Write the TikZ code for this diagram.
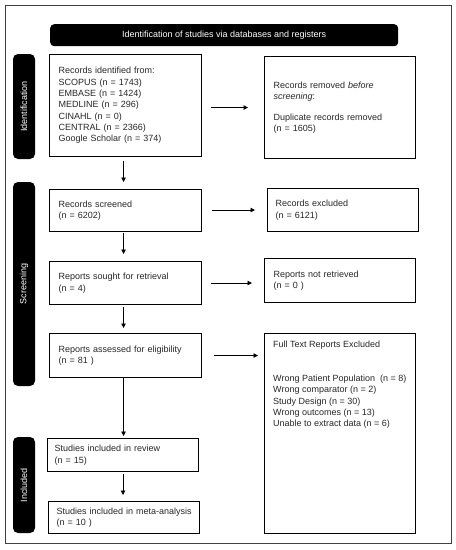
\documentclass[tikz,border=0pt]{standalone}
\usepackage{fontspec}
\setmainfont{Liberation Sans}
\usetikzlibrary{arrows.meta,calc}
\begin{document}
\begin{tikzpicture}[x=1pt,y=-1pt,
  txt/.style={font=\fontsize{9}{11.3}\selectfont, text=black!85},
  box/.style={txt, draw=black, line width=1.1pt, anchor=north west, align=left, inner xsep=9pt, inner ysep=0pt},
  bar/.style={fill=black, rounded corners=5pt, inner sep=0pt, text=white, font=\fontsize{9}{11}\selectfont, rotate=90, minimum height=22pt},
  arr/.style={-{Triangle[length=4.5pt,width=4.5pt]}, line width=0.7pt, black},
]
\useasboundingbox (0,0) rectangle (456,550);
\draw[line width=0.9pt, black!75] (5,5) rectangle (451,543);

\node[fill=black, rounded corners=4pt, anchor=north west, minimum width=348pt, minimum height=22pt, inner sep=0pt, text=white, font=\fontsize{9}{11}\selectfont] (hdr) at (50,24) {Identification of studies via databases and registers};

\node[bar, minimum width=105pt] (lid) at (24,106.5) {Identification};
\node[bar, minimum width=204pt] (lsc) at (24,284) {Screening};
\node[bar, minimum width=96pt] (lin) at (24,485) {Included};

\node[box, minimum width=152pt, minimum height=102pt, text width=134pt] (b1) at (49,54) {Records identified from:\\SCOPUS (n = 1743)\\EMBASE (n = 1424)\\MEDLINE (n = 296)\\CINAHL (n = 0)\\CENTRAL (n = 2366)\\Google Scholar (n = 374)};
\node[box, minimum width=151pt, minimum height=102pt, text width=133pt] (b2) at (264,56) {Records removed \textit{before}\\\textit{screening}:\\[9pt]Duplicate records removed\\(n = 1605)};

\node[box, minimum width=152pt, minimum height=42pt, text width=134pt] (b3) at (49,189) {Records screened\\(n = 6202)};
\node[box, minimum width=151pt, minimum height=43pt, text width=135pt, inner xsep=8pt] (b4) at (267,188) {Records excluded\\(n = 6121)};

\node[box, minimum width=152pt, minimum height=43pt, text width=134pt] (b5) at (49,261) {Reports sought for retrieval\\(n = 4)};
\node[box, minimum width=151pt, minimum height=44pt, text width=133pt] (b6) at (264,258) {Reports not retrieved\\(n = 0 )};

\node[box, minimum width=152pt, minimum height=44pt, text width=134pt] (b7) at (49,333) {Reports assessed for eligibility\\(n = 81 )};
\node[box, minimum width=151pt, minimum height=200pt] (b8) at (264,333) {};
\node[txt, anchor=north west, align=left, inner sep=0pt] (b8t) at ([xshift=9pt,yshift=-8pt]b8.north west) {Full Text Reports Excluded\\[22.6pt]Wrong Patient Population\ \ (n = 8)\\Wrong comparator (n = 2)\\Study Design (n = 30)\\Wrong outcomes (n = 13)\\Unable to extract data (n = 6)};

\node[box, minimum width=151pt, minimum height=33pt, text width=137pt, inner xsep=7pt] (b9) at (47,438) {Studies included in review\\(n = 15)};
\node[box, minimum width=151pt, minimum height=32pt, text width=135pt, inner xsep=8pt] (b10) at (48,501) {\mbox{Studies included in meta-analysis}\\(n = 10 )};

\draw[arr, shorten <=9pt, shorten >=16pt] (b1.east |- b2.west) -- (b2.west);
\draw[arr, shorten <=10pt, shorten >=12pt] (b3.east |- b4.west) -- (b4.west);
\draw[arr, shorten <=9pt, shorten >=12pt] (b5.east) -- (b5.east -| b6.west);
\draw[arr, shorten <=12pt, shorten >=6pt] (b7.east) -- (b7.east -| b8.west);

\draw[arr, shorten <=4pt, shorten >=7pt] ([xshift=-2pt]b1.south) -- ([xshift=-2pt]b1.south |- b3.north);
\draw[arr, shorten <=1pt, shorten >=7pt] ([xshift=-2pt]b3.south) -- ([xshift=-2pt]b3.south |- b5.north);
\draw[arr, shorten <=2pt, shorten >=5pt] ([xshift=-2pt]b5.south) -- ([xshift=-2pt]b5.south |- b7.north);
\draw[arr, shorten <=0pt, shorten >=2pt] ([xshift=-2pt]b7.south) -- ([xshift=-2pt]b7.south |- b9.north);
\draw[arr, shorten <=2pt, shorten >=6pt] (b9.south) -- (b9.south |- b10.north);
\end{tikzpicture}
\end{document}
